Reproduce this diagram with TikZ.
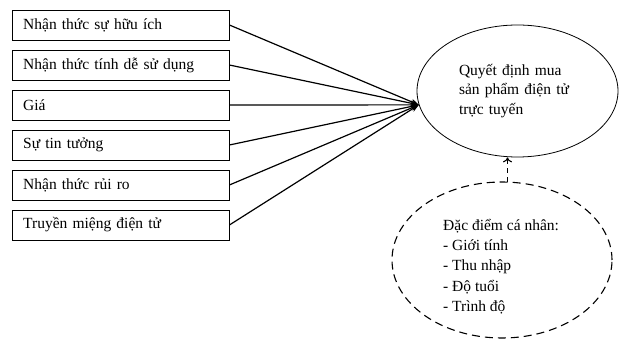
\documentclass[tikz,border=0pt]{standalone}
\usepackage{fontspec}
\setmainfont{Liberation Serif}
\usetikzlibrary{arrows.meta,shapes.geometric}
\tikzset{
  factor/.style={draw,anchor=west,minimum width=217pt,minimum height=30pt,text width=195pt,align=left,inner xsep=11pt},
  link/.style={line width=1.2pt,-{Stealth[length=8pt,width=6pt]}}
}
\begin{document}
\begin{tikzpicture}[x=1pt,y=-1pt,font=\fontsize{15.5}{19.5}\selectfont]
    \useasboundingbox (0,0) rectangle (619,339);
    \node[draw,ellipse,minimum width=201pt,minimum height=132pt,line width=0.8pt] (qd) at (517.5,91) {};
    \node[text width=117pt,align=left] (qdtext) at (qd.center) {\makebox[117pt][s]{Quyết định mua}\\\makebox[117pt][s]{sản phẩm điện tử}\\trực tuyến};
    \node[draw,ellipse,dashed,dash pattern=on 8pt off 5pt,line width=1.1pt,minimum width=220pt,minimum height=156pt] (dd) at (502,260) {};
    \node[anchor=north west,align=left,inner sep=0pt,font=\fontsize{15.5}{20.2}\selectfont] (ddtext) at (443,219) {Đặc điểm cá nhân:\\- Giới tính\\- Thu nhập\\- Độ tuổi\\- Trình độ};
    \foreach \t [count=\i] in {Nhận thức sự hữu ích,Nhận thức tính dễ sử dụng,Giá,Sự tin tưởng,Nhận thức rủi ro,Truyền miệng điện tử} {
      \node[factor] (b\i) at (12,{-15+40*\i}) {\t};
      \draw[link] (b\i.east) -- (qd.188);
    }
    \draw[dashed,dash pattern=on 5pt off 4pt,line width=1.1pt,-{To[length=5pt,width=9pt]}] (dd.86) -- (dd.86 |- qd.south);
  \end{tikzpicture}
\end{document}
